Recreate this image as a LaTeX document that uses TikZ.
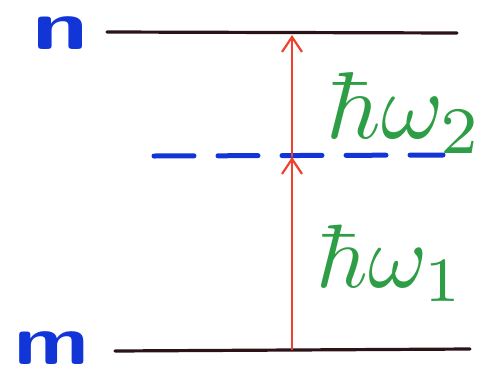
\documentclass[tikz,border=0pt]{standalone}
\usepackage{graphicx}
\usetikzlibrary{arrows.meta}
\definecolor{penblue}{HTML}{1235D8}
\definecolor{pengreen}{HTML}{2E9E46}
\definecolor{penred}{HTML}{F0402E}
\definecolor{penblack}{HTML}{2A1418}
\tikzset{
  level/.style={draw=penblack, line width=3.2pt, line cap=round},
  virtual/.style={draw=penblue, line width=5pt, line cap=round, dash pattern=on 40pt off 24pt},
  photon/.style={draw=penred, line width=2.4pt, -{Straight Barb[length=15pt,width=20pt,line width=2.2pt]}},
  statelab/.style={text=penblue, inner sep=0pt, font=\sffamily\bfseries},
  energylab/.style={text=pengreen, inner sep=0pt},
}
\begin{document}
\begin{tikzpicture}[x=1pt,y=-1pt]
\useasboundingbox (0,0) rectangle (489,370);
\coordinate (nL) at (107,32);
\coordinate (nR) at (457,33);
\coordinate (mL) at (115,351);
\coordinate (mR) at (470,349);
\coordinate (vL) at (154,156);
\coordinate (vR) at (443,155);
\coordinate (a0) at (292,350);
\coordinate (a1) at (292,157);
\coordinate (a2) at (292,35);
\draw[level] (nL) -- (nR);
\draw[level] (mL) -- (mR);
\draw[virtual] (vL) -- (vR);
\draw[photon] (a0) -- (a1);
\draw[photon] (a1) -- (a2);
\node[statelab] (n) at (61,33) {\scalebox{10}[7]{n}};
\node[statelab] (m) at (52,348) {\scalebox{8.6}[7]{m}};
\node[energylab] (w2) at (405,113) {\scalebox{9.5}{$\hbar\omega_2$}};
\node[energylab] (w1) at (391,263) {\scalebox{9}{$\hbar\omega_1$}};
\end{tikzpicture}
\end{document}
